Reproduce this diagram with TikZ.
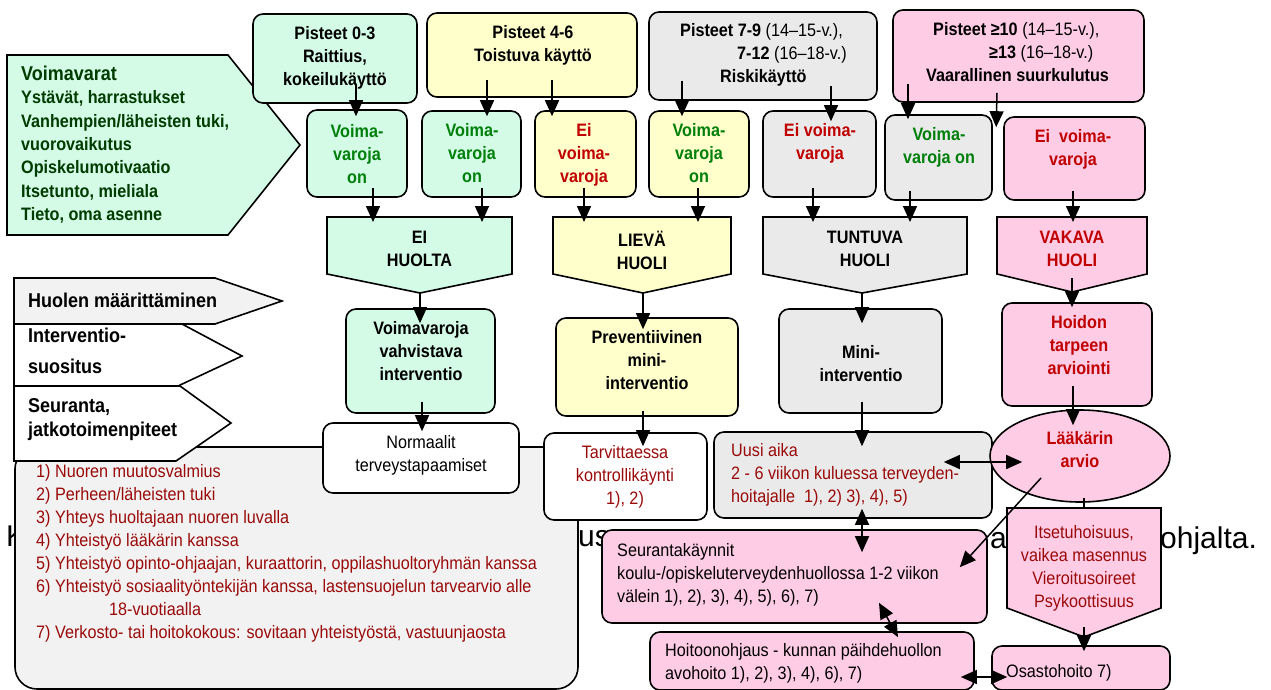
\documentclass[tikz,border=0pt]{standalone}
\usepackage{fontspec}
\setmainfont{Liberation Sans}[FakeStretch=0.9]
\newfontfamily\bgfont{Liberation Sans}
\usepackage{xcolor}
\usepackage{tikz}
\usetikzlibrary{positioning,shapes.geometric,arrows.meta}

\definecolor{mint}{HTML}{D3FBE6}
\definecolor{lemon}{HTML}{FFFFCC}
\definecolor{ash}{HTML}{EAEAEA}
\definecolor{rose}{HTML}{FFCCE6}
\definecolor{paleash}{HTML}{F2F2F2}
\definecolor{okgreen}{HTML}{00800A}
\definecolor{alert}{HTML}{C00000}
\definecolor{darkred}{HTML}{9A0A0A}
\definecolor{forest}{HTML}{003B00}

\begin{document}
\begin{tikzpicture}[x=1pt, y=-1pt,
    box/.style={draw, line width=1.6pt, rounded corners=10pt, inner sep=0pt},
    shp/.style={draw, line width=1.6pt},
    txt/.style={inner sep=0pt, anchor=north, align=center,
        font=\fontsize{18}{23}\selectfont, execute at begin node={\rule{0pt}{17pt}}},
    ltxt/.style={txt, anchor=north west, align=left},
    bld/.style={font=\fontsize{18}{23}\selectfont\bfseries},
    lbl/.style={ltxt, font=\fontsize{20}{24}\selectfont\bfseries},
    arr/.style={line width=1.5pt, -{Triangle[length=16pt,width=14pt]}},
    dbl/.style={line width=1.5pt, {Triangle[length=16pt,width=14pt]}-{Triangle[length=16pt,width=14pt]}}]

    \useasboundingbox (0,0) rectangle (1271,690);

    % words of the page behind the chart
    \node[inner sep=0pt, anchor=base west, font=\bgfont\fontsize{30}{36}\selectfont] (bgK) at (6,546) {K};
    \node[inner sep=0pt, anchor=base west, font=\bgfont\fontsize{30}{36}\selectfont] (bgUs) at (578,546) {us};
    \node[inner sep=0pt, anchor=base west, font=\bgfont\fontsize{30}{36}\selectfont] (bgA) at (990,548) {a};
    \node[inner sep=0pt, anchor=base west, font=\bgfont\fontsize{30}{36}\selectfont] (bgEnd) at (1160,548) {ohjalta.};

    % voimavarat
    \draw[shp, fill=mint] (7,55) -- (228,55) -- (300,145) -- (228,235) -- (7,235) -- cycle;
    \node[ltxt, text=forest, font=\fontsize{18}{23.3}\selectfont\bfseries] (voimT) at (21,66)
        {{\fontsize{20}{23.3}\selectfont Voimavarat}\\Ystävät, harrastukset\\Vanhempien/läheisten tuki,\\vuorovaikutus\\Opiskelumotivaatio\\Itsetunto, mieliala\\Tieto, oma asenne};

    % pisteet
    \node[box, fill=mint, minimum width=164pt, minimum height=89pt] (p03) at (335,58.5) {};
    \node[txt, bld] (p03T) at (335,26) {Pisteet 0-3\\Raittius,\\kokeilukäyttö};
    \node[box, fill=lemon, minimum width=210pt, minimum height=84pt] (p46) at (532,55) {};
    \node[txt, bld] (p46T) at (533,25) {Pisteet 4-6\\Toistuva käyttö};
    \node[box, fill=ash, minimum width=228pt, minimum height=88pt] (p79) at (763,56) {};
    \node[ltxt] (p79T) at (680,23) {\textbf{Pisteet 7-9} (14–15-v.),\\\hspace*{57pt}\textbf{7-12} (16–18-v.)\\\hspace*{40pt}\textbf{Riskikäyttö}};
    \node[box, fill=rose, minimum width=251pt, minimum height=92pt] (p10) at (1018.5,56) {};
    \node[ltxt] (p10T) at (926,22) {\hspace*{7pt}\textbf{Pisteet ≥10} (14–15-v.),\\\hspace*{63pt}\textbf{≥13} (16–18-v.)\\\textbf{Vaarallinen suurkulutus}};

    % voimavaroja on / ei
    \node[box, fill=mint, minimum width=100pt, minimum height=87pt] (v1) at (357,153.5) {};
    \node[txt, bld, text=okgreen] (v1T) at (357,124) {Voima-\\varoja\\on};
    \node[box, fill=mint, minimum width=99pt, minimum height=86pt] (v2) at (471.5,154) {};
    \node[txt, bld, text=okgreen] (v2T) at (472,123) {Voima-\\varoja\\on};
    \node[box, fill=lemon, minimum width=101pt, minimum height=86pt] (e1) at (585.5,154) {};
    \node[txt, bld, text=alert] (e1T) at (584,123) {Ei\\voima-\\varoja};
    \node[box, fill=lemon, minimum width=100pt, minimum height=86pt] (v3) at (699,154) {};
    \node[txt, bld, text=okgreen] (v3T) at (699,123) {Voima-\\varoja\\on};
    \node[box, fill=ash, minimum width=113pt, minimum height=86pt] (e2) at (819.5,154) {};
    \node[txt, bld, text=alert] (e2T) at (820,123) {Ei voima-\\varoja};
    \node[box, fill=ash, minimum width=107pt, minimum height=85pt] (v4) at (938.5,157.5) {};
    \node[txt, bld, text=okgreen] (v4T) at (939,127) {Voima-\\varoja on};
    \node[box, fill=rose, minimum width=141pt, minimum height=83pt] (e3) at (1074.5,158.5) {};
    \node[txt, bld, text=alert] (e3T) at (1073,129) {Ei\ \ voima-\\varoja};

    % huolen aste
    \coordinate (eiTop) at (419.5,217);
    \coordinate (eiTip) at (420,293);
    \coordinate (lvTop) at (642,217);
    \coordinate (lvTip) at (643,293);
    \coordinate (tnTop) at (865,217);
    \coordinate (tnTip) at (862,293);
    \coordinate (vkTop) at (1072,217);
    \coordinate (vkTip) at (1072,292);
    \draw[shp, fill=mint] (327,217) -- (512,217) -- (512,274) -- (eiTip) -- (327,274) -- cycle;
    \node[txt, bld] (eiT) at (419.5,231) {EI\\HUOLTA};
    \draw[shp, fill=lemon] (553,217) -- (731,217) -- (731,274) -- (lvTip) -- (553,274) -- cycle;
    \node[txt, bld] (lvT) at (642,231) {LIEVÄ\\HUOLI};
    \draw[shp, fill=ash] (763,217) -- (967,217) -- (967,274) -- (tnTip) -- (763,274) -- cycle;
    \node[txt, bld] (tnT) at (865,231) {TUNTUVA\\HUOLI};
    \draw[shp, fill=rose] (997,217) -- (1147,217) -- (1147,274) -- (vkTip) -- (997,274) -- cycle;
    \node[txt, bld, text=alert] (vkT) at (1072,231) {VAKAVA\\HUOLI};

    % jatkotoimet
    \node[draw, line width=1.6pt, fill=paleash, rounded corners=22pt, inner sep=0pt,
        minimum width=563pt, minimum height=242pt] (lbox) at (296.5,568) {};
    \node[ltxt, text=darkred] (lboxT) at (36,464) {1) Nuoren muutosvalmius\\2) Perheen/läheisten tuki\\3) Yhteys huoltajaan nuoren luvalla\\4) Yhteistyö lääkärin kanssa\\5) Yhteistyö opinto-ohjaajan, kuraattorin, oppilashuoltoryhmän kanssa\\6) Yhteistyö sosiaalityöntekijän kanssa, lastensuojelun tarvearvio alle\\\hspace*{73pt}18-vuotiaalla\\7) Verkosto- tai hoitokokous: sovitaan yhteistyöstä, vastuunjaosta};

    % vaiheet
    \draw[shp, fill=paleash] (14,278) -- (215,278) -- (282,301) -- (215,324) -- (14,324) -- cycle;
    \node[lbl] (huolT) at (28,290) {Huolen määrittäminen};
    \draw[shp, fill=white] (14,324) -- (182,324) -- (242,356) -- (178,386) -- (14,386) -- cycle;
    \node[lbl, font=\fontsize{20}{31}\selectfont\bfseries] (intT) at (28,328) {Interventio-\\suositus};
    \draw[shp, fill=white] (14,386) -- (180,386) -- (231,423) -- (176,461) -- (14,461) -- cycle;
    \node[lbl] (seuT) at (28,398) {Seuranta,\\jatkotoimenpiteet};

    % interventiot
    \node[box, fill=mint, minimum width=149pt, minimum height=104pt] (vv) at (420.5,361) {};
    \node[txt, bld] (vvT) at (421,321) {Voimavaroja\\vahvistava\\interventio};
    \node[box, fill=lemon, minimum width=182pt, minimum height=98pt] (prev) at (647,367) {};
    \node[txt, bld] (prevT) at (647,330) {Preventiivinen\\mini-\\interventio};
    \node[box, fill=ash, minimum width=163pt, minimum height=104pt] (mini) at (860.5,361) {};
    \node[txt, bld] (miniT) at (861,345) {Mini-\\interventio};
    \node[box, fill=rose, minimum width=150pt, minimum height=103pt] (hoidon) at (1077,354.5) {};
    \node[txt, bld, text=alert] (hoidonT) at (1079,315) {Hoidon\\tarpeen\\arviointi};

    % seuranta
    \node[box, fill=white, minimum width=196pt, minimum height=70pt] (norm) at (421,458) {};
    \node[txt] (normT) at (421,435) {Normaalit\\terveystapaamiset};
    \node[box, fill=white, minimum width=163pt, minimum height=87pt] (tarv) at (625.5,476.5) {};
    \node[txt, text=darkred] (tarvT) at (625,445) {Tarvittaessa\\kontrollikäynti\\1), 2)};
    \node[box, fill=ash, minimum width=278pt, minimum height=86pt] (uusi) at (853,475) {};
    \node[ltxt, text=darkred] (uusiT) at (731,443) {Uusi aika\\2 - 6 viikon kuluessa terveyden-\\hoitajalle\ \ 1), 2) 3), 4), 5)};
    \node[ellipse, draw, line width=1.6pt, fill=rose, inner sep=0pt,
        minimum width=180pt, minimum height=92pt] (laak) at (1080,456) {};
    \node[txt, bld, text=alert] (laakT) at (1080,431) {Lääkärin\\arvio};

    \node[box, fill=rose, minimum width=385pt, minimum height=93pt] (seur) at (794.5,576.5) {};
    \node[ltxt] (seurT) at (617,543) {Seurantakäynnit\\koulu-/opiskeluterveydenhuollossa 1-2 viikon\\välein 1), 2), 3), 4), 5), 6), 7)};
    \coordinate (itTop) at (1084,508);
    \coordinate (itTip) at (1084,637);
    \draw[shp, fill=rose] (1007,508) -- (1161,508) -- (1161,608) -- (itTip) -- (1007,608) -- cycle;
    \node[txt, text=darkred] (itT) at (1084,525) {Itsetuhoisuus,\\vaikea masennus\\Vieroitusoireet\\Psykoottisuus};
    \node[box, fill=rose, minimum width=324pt, minimum height=58pt] (hoito) at (812,661) {};
    \node[ltxt] (hoitoT) at (665,643) {Hoitoonohjaus - kunnan päihdehuollon\\avohoito 1), 2), 3), 4), 6), 7)};
    \node[box, fill=rose, minimum width=178pt, minimum height=44pt] (osasto) at (1081,668) {};
    \node[ltxt] (osastoT) at (1006,660) {Osastohoito 7)};

    % nuolet
    \draw[arr] ([xshift=21pt,yshift=20pt]p03.south) -- ([xshift=-1pt,yshift=-7pt]v1.north);
    \draw[arr] ([xshift=-45pt,yshift=18pt]p46.south) -- ([xshift=15.5pt,yshift=-6pt]v2.north);
    \draw[arr] ([xshift=20pt,yshift=18pt]p46.south) -- ([xshift=-33.5pt,yshift=-6pt]e1.north);
    \draw[arr] ([xshift=-81pt,yshift=20pt]p79.south) -- ([xshift=-17pt,yshift=-6pt]v3.north);
    \draw[arr] ([xshift=68pt,yshift=15pt]p79.south) -- ([xshift=11.5pt,yshift=-11pt]e2.north);
    \draw[arr] ([xshift=-110.5pt,yshift=19pt]p10.south) -- ([xshift=-30.5pt,yshift=-5pt]v4.north);
    \draw[arr] ([xshift=-21.5pt,yshift=10pt]p10.south) -- ([xshift=-7pt,yshift=-11pt]e3.north west);

    \draw[arr] ([xshift=16pt,yshift=10pt]v1.south) -- ([xshift=-46.5pt,yshift=-5pt]eiTop);
    \draw[arr] ([xshift=10.5pt,yshift=10pt]v2.south) -- ([xshift=62.5pt,yshift=-5pt]eiTop);
    \draw[arr] ([xshift=-1.5pt,yshift=10pt]e1.south) -- ([xshift=-58pt,yshift=-5pt]lvTop);
    \draw[arr] ([xshift=-1pt,yshift=10pt]v3.south) -- ([xshift=56pt,yshift=-5pt]lvTop);
    \draw[arr] ([xshift=-6.5pt,yshift=10pt]e2.south) -- ([xshift=-52pt,yshift=-5pt]tnTop);
    \draw[arr] ([xshift=-28.5pt,yshift=10pt]v4.south) -- ([xshift=45pt,yshift=-5pt]tnTop);
    \draw[arr] ([xshift=-1.5pt,yshift=10pt]e3.south) -- ([xshift=1pt,yshift=-5pt]vkTop);

    \draw[arr] (eiTip) -- ([xshift=-0.5pt,yshift=-15pt]vv.north);
    \draw[arr] (lvTip) -- ([xshift=-4pt,yshift=-12pt]prev.north);
    \draw[arr] (tnTip) -- ([xshift=1.5pt,yshift=-15pt]mini.north);
    \draw[arr] ([yshift=14pt]vkTip) -- ([xshift=-5pt,yshift=-5pt]hoidon.north);

    \draw[arr] ([xshift=1.5pt,yshift=12pt]vv.south) -- ([xshift=1pt,yshift=-9pt]norm.north);
    \draw[arr] ([xshift=-4pt,yshift=6pt]prev.south) -- ([xshift=17.5pt,yshift=-14pt]tarv.north);
    \draw[arr] ([xshift=1.5pt,yshift=12pt]mini.south) -- ([xshift=9pt,yshift=-15pt]uusi.north);
    \draw[arr] ([xshift=-4pt,yshift=21pt]hoidon.south) -- ([xshift=-7pt,yshift=-16pt]laak.north);

    \draw[dbl] ([xshift=-49pt,yshift=13pt]uusi.east) -- ([xshift=33pt,yshift=-6pt]laak.west);
    \draw[arr] ([xshift=-39pt,yshift=-22pt]laak.center) -- ([xshift=-28pt,yshift=-38pt]seur.north east);
    \draw[line width=1.5pt] ([xshift=4pt,yshift=5pt]laak.south) -- (itTop);
    \draw[dbl] ([xshift=9pt,yshift=10pt]uusi.south) -- ([xshift=67.5pt,yshift=-23pt]seur.north);
    \draw[dbl] ([xshift=84.5pt,yshift=21pt]seur.south) -- ([xshift=86pt,yshift=-6pt]hoito.north);
    \draw[arr] ([yshift=10pt]itTip) -- ([xshift=3pt,yshift=-6pt]osasto.north);
    \draw[dbl] ([xshift=-14pt,yshift=-16pt]hoito.east) -- ([xshift=16pt,yshift=-9pt]osasto.west);
\end{tikzpicture}
\end{document}
